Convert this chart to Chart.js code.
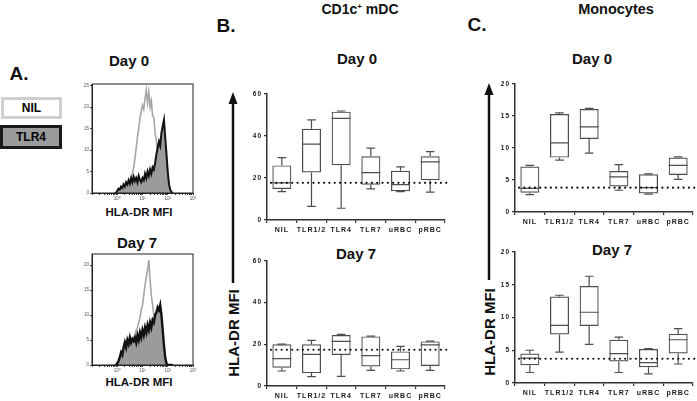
<!DOCTYPE html>
<html>
<head>
<meta charset="UTF-8" />
<title>HLA-DR MFI</title>
<script src="https://cdn.jsdelivr.net/npm/chart.js"></script>
<style>
  body { margin:0; width:697px; height:401px; position:relative; overflow:hidden; background:#fff; font-family:Arial, "Liberation Sans", sans-serif; }
  .t { position:absolute; font-weight:bold; color:#111; white-space:nowrap; transform:translate(-50%,-50%); line-height:1; }
  .rot { transform:translate(-50%,-50%) rotate(-90deg); }
  canvas { position:absolute; }
  .lg { position:absolute; box-sizing:border-box; font-weight:bold; font-size:12px; display:flex; align-items:center; justify-content:center; }
</style>
</head>
<body>
  <!-- headings -->
  <div class="t" style="left:19px;top:73px;font-size:19px">A.</div>
  <div class="t" style="left:226px;top:25px;font-size:19px">B.</div>
  <div class="t" style="left:477px;top:24px;font-size:19px">C.</div>
  <div class="t" style="left:360px;top:9px;font-size:14px">CD1c<sup style="font-size:8px;vertical-align:5px">+</sup> mDC</div>
  <div class="t" style="left:616px;top:9px;font-size:14.5px">Monocytes</div>

  <div class="t" style="left:129px;top:60px;font-size:15px">Day 0</div>
  <div class="t" style="left:137px;top:242px;font-size:15px">Day 7</div>
  <div class="t" style="left:357px;top:58px;font-size:15px">Day 0</div>
  <div class="t" style="left:356px;top:253px;font-size:15px">Day 7</div>
  <div class="t" style="left:592px;top:58px;font-size:15px">Day 0</div>
  <div class="t" style="left:612px;top:249px;font-size:15px">Day 7</div>

  <div class="t" style="left:139px;top:213px;font-size:11.5px">HLA-DR MFI</div>
  <div class="t" style="left:139px;top:383px;font-size:11.5px">HLA-DR MFI</div>
  <div class="t rot" style="left:233px;top:333px;font-size:15px">HLA-DR MFI</div>
  <div class="t rot" style="left:489px;top:332px;font-size:15px">HLA-DR MFI</div>

  <div class="lg" style="left:1px;top:97px;width:61px;height:22px;border:3px solid #cfcfcf;background:#fff">NIL</div>
  <div class="lg" style="left:0px;top:125px;width:62px;height:24px;border:3px solid #1a1a1a;background:#9b9b9b">TLR4</div>

  <canvas id="h0" width="130" height="125" style="left:70px;top:78px"></canvas>
  <canvas id="h7" width="130" height="127" style="left:70px;top:248px"></canvas>
  <canvas id="b0" width="225" height="154" style="left:225px;top:86px"></canvas>
  <canvas id="b7" width="225" height="148" style="left:225px;top:253px"></canvas>
  <canvas id="c0" width="222" height="156" style="left:475px;top:76px"></canvas>
  <canvas id="c7" width="222" height="157" style="left:475px;top:244px"></canvas>

  <svg width="697" height="401" style="position:absolute;left:0;top:0;pointer-events:none">
    <line x1="233" y1="102" x2="233" y2="283" stroke="#111" stroke-width="2.5"/>
    <polygon points="233,92 228.5,104 237.5,104" fill="#111"/>
    <line x1="489" y1="93" x2="489" y2="280" stroke="#111" stroke-width="2.5"/>
    <polygon points="489,83 484.5,95 493.5,95" fill="#111"/>
  </svg>

<script>
// ---- data ----
const categories = ['NIL', 'TLR1/2', 'TLR4', 'TLR7', 'uRBC', 'pRBC'];

// CD1c+ mDC, day 0
const mdcD0Min = [13.5, 6.5, 5.6, 14.8, 13.5, 13.3];
const mdcD0Q1  = [14.8, 22.6, 26.1, 16.8, 13.7, 18.9];
const mdcD0Med = [17.7, 36.1, 48.4, 22.6, 16.8, 27.7];
const mdcD0Q3  = [26.0, 43.4, 51.6, 30.3, 23.4, 30.3];
const mdcD0Max = [29.7, 47.7, 51.9, 34.2, 25.3, 32.6];
const mdcD0Ref = 17.7;

// CD1c+ mDC, day 7
const mdcD7Min = [7.2, 4.5, 4.6, 7.5, 7.2, 7.5];
const mdcD7Q1  = [8.8, 6.2, 14.9, 9.4, 8.0, 9.6];
const mdcD7Med = [13.1, 15.2, 21.4, 14.6, 12.6, 19.7];
const mdcD7Q3  = [20.0, 20.0, 24.5, 23.8, 16.6, 21.4];
const mdcD7Max = [20.1, 21.9, 24.8, 23.9, 19.0, 21.5];
const mdcD7Ref = 17.4;

// Monocytes, day 0
const monoD0Min = [2.7, 8.1, 9.2, 3.4, 2.8, 5.1];
const monoD0Q1  = [3.0, 8.5, 11.4, 4.0, 2.9, 5.8];
const monoD0Med = [3.7, 10.8, 13.3, 5.5, 3.8, 7.3];
const monoD0Q3  = [7.1, 15.3, 16.1, 6.4, 5.9, 8.5];
const monoD0Max = [7.3, 15.5, 16.2, 7.4, 5.95, 8.6];
const monoD0Ref = 3.8;

// Monocytes, day 7
const monoD7Min = [1.6, 4.7, 5.9, 1.6, 1.4, 2.9];
const monoD7Q1  = [2.7, 7.4, 8.7, 3.3, 2.4, 4.5];
const monoD7Med = [3.8, 8.8, 10.8, 4.5, 3.1, 6.6];
const monoD7Q3  = [4.5, 13.2, 14.8, 6.6, 5.2, 7.5];
const monoD7Max = [5.0, 13.4, 16.3, 7.0, 5.25, 8.3];
const monoD7Ref = 3.7;

// histogram bins (log10 of fluorescence)
const binLog = [-0.1, -0.05, 0, 0.05, 0.1, 0.15, 0.2, 0.25, 0.3, 0.35, 0.4, 0.45, 0.5, 0.55, 0.6, 0.65,
  0.7, 0.75, 0.8, 0.85, 0.9, 0.95, 1.0, 1.05, 1.1, 1.15, 1.2, 1.25, 1.3, 1.35, 1.4, 1.45, 1.5, 1.55,
  1.6, 1.65, 1.7, 1.75, 1.8, 1.85, 1.9, 1.95, 2.0, 2.05, 2.1, 2.15, 2.2];
const histD0Nil = [0, 0, 0.3, 0.4, 0.5, 0.5, 0.6, 0.7, 0.8, 1.0, 1.2, 1.5, 1.8, 3, 4.5, 6,
  8, 10.5, 13, 15, 17.5, 19, 20.5, 19.5, 22, 24, 21, 23.5, 20, 21.5, 18, 17.5, 14, 12,
  9, 7.5, 5.5, 4, 3, 2, 1.3, 0.8, 0.4, 0.2, 0, 0, 0];
const histD0Tlr4 = [0, 0, 0.5, 1, 0.8, 1.5, 1.2, 2, 1.5, 2.5, 2, 3, 2.2, 3.5, 2.5, 3.8,
  2.8, 3.5, 2.5, 4, 3, 2.5, 3.5, 3, 4.5, 3.5, 5, 4, 5.5, 4.5, 6, 5.5, 7, 9,
  10.5, 12, 11, 14, 15.5, 17, 13, 9, 5, 2, 0.8, 0.2, 0];
const histD7Nil = [0, 0, 0, 0.2, 0.5, 1, 1.5, 2, 2.5, 3, 3.5, 3.8, 4, 4.5, 5, 5.5,
  6, 7, 7.5, 8.5, 9.5, 11, 12, 14, 16, 17.5, 19, 21, 17, 14, 12, 10, 9.5, 9,
  8, 6.5, 4.5, 2.5, 1, 0.3, 0, 0, 0, 0, 0, 0, 0];
const histD7Tlr4 = [0, 0, 0.3, 0.8, 1.5, 2.5, 2, 3.5, 4.5, 3.5, 5, 4.2, 5.5, 4.5, 5.2, 4.8,
  5.5, 4.5, 6, 5, 6.5, 5.5, 7, 6, 7.5, 6.5, 8, 7, 8.5, 7.5, 9, 8.5, 10, 10.5,
  11.5, 11, 12, 10, 7, 4, 1.5, 0.3, 0, 0, 0, 0, 0];
const histD0YTicks = [0, 5, 10, 15, 20, 25];
const histD7YTicks = [0, 5, 10, 15, 20];

// ---- helpers ----
const spacing = { id: 'spacing', beforeDraw(chart) { chart.ctx.letterSpacing = '1px'; } };

const boxExtras = {
  id: 'boxExtras',
  afterDatasetsDraw(chart) {
    const ctx = chart.ctx, ds = chart.data.datasets[0], y = chart.scales.y, a = chart.chartArea;
    ctx.save();
    ctx.strokeStyle = '#4d4d4d';
    ctx.lineWidth = 1.2;
    chart.getDatasetMeta(0).data.forEach((bar, i) => {
      const x = bar.x, hw = bar.width / 2, cw = hw * 0.45;
      const yMin = y.getPixelForValue(ds.mins[i]), yMax = y.getPixelForValue(ds.maxs[i]);
      const yQ1 = y.getPixelForValue(ds.data[i][0]), yQ3 = y.getPixelForValue(ds.data[i][1]);
      const yMed = y.getPixelForValue(ds.meds[i]);
      ctx.beginPath();
      ctx.moveTo(x, yQ3); ctx.lineTo(x, yMax);
      ctx.moveTo(x - cw, yMax); ctx.lineTo(x + cw, yMax);
      ctx.moveTo(x, yQ1); ctx.lineTo(x, yMin);
      ctx.moveTo(x - cw, yMin); ctx.lineTo(x + cw, yMin);
      ctx.moveTo(x - hw, yMed); ctx.lineTo(x + hw, yMed);
      ctx.stroke();
    });
    const yr = y.getPixelForValue(ds.ref);
    ctx.setLineDash([0.01, 5.3]);
    ctx.lineCap = 'round';
    ctx.lineWidth = 2.2;
    ctx.strokeStyle = '#111';
    ctx.beginPath(); ctx.moveTo(a.left + 4, yr); ctx.lineTo(a.right + 4, yr); ctx.stroke();
    ctx.restore();
  }
};

function boxChart(id, mins, q1s, meds, q3s, maxs, ref, yMax, step, yW, xH, padTop, padRight) {
  return new Chart(document.getElementById(id), {
    type: 'bar',
    data: {
      labels: categories,
      datasets: [{
        data: q1s.map((q, i) => [q, q3s[i]]),
        mins: mins, meds: meds, maxs: maxs, ref: ref,
        backgroundColor: 'rgba(0,0,0,0)', borderColor: '#4d4d4d', borderWidth: 1.2,
        borderSkipped: false, barPercentage: 0.64, categoryPercentage: 1
      }]
    },
    options: {
      responsive: false, animation: false, events: [],
      layout: { padding: { top: padTop, right: padRight, left: 0, bottom: 0 } },
      plugins: { legend: { display: false }, tooltip: { enabled: false } },
      scales: {
        x: {
          grid: { drawOnChartArea: false, tickLength: 3, color: '#333', lineWidth: 1.2 },
          border: { color: '#333', width: 1.5 },
          ticks: { font: { size: 7, weight: 'bold', family: 'Arial' }, color: '#1a1a1a', padding: 3, maxRotation: 0, autoSkip: false },
          afterFit: s => { s.height = xH; }
        },
        y: {
          min: 0, max: yMax,
          grid: { drawOnChartArea: false, tickLength: 3, color: '#333', lineWidth: 1.2 },
          border: { color: '#333', width: 1.5 },
          ticks: { stepSize: step, font: { size: 6.5, weight: 'bold', family: 'Arial' }, color: '#1a1a1a', padding: 2 },
          afterFit: s => { s.width = yW; }
        }
      }
    },
    plugins: [spacing, boxExtras]
  });
}

boxChart('b0', mdcD0Min, mdcD0Q1, mdcD0Med, mdcD0Q3, mdcD0Max, mdcD0Ref, 60, 20, 42, 20, 8, 5);
boxChart('b7', mdcD7Min, mdcD7Q1, mdcD7Med, mdcD7Q3, mdcD7Max, mdcD7Ref, 60, 20, 42, 15, 8, 5);
boxChart('c0', monoD0Min, monoD0Q1, monoD0Med, monoD0Q3, monoD0Max, monoD0Ref, 20, 5, 40, 20, 8, 4);
boxChart('c7', monoD7Min, monoD7Q1, monoD7Med, monoD7Q3, monoD7Max, monoD7Ref, 20, 5, 40, 18, 8, 4);

// histogram axis ticks: decades plus log minor ticks
const sup = ['\u2070', '\u00b9', '\u00b2', '\u00b3'];
const frame = {
  id: 'frame',
  afterDraw(chart) {
    const a = chart.chartArea, ctx = chart.ctx;
    ctx.save(); ctx.strokeStyle = '#222'; ctx.lineWidth = 1;
    ctx.strokeRect(a.left, a.top, a.right - a.left, a.bottom - a.top);
    ctx.restore();
  }
};

function histChart(id, nil, tlr4, yMax, yTicks, tlrWidth) {
  return new Chart(document.getElementById(id), {
    type: 'line',
    data: {
      datasets: [
        { data: binLog.map((x, i) => ({ x: x, y: tlr4[i] })), borderColor: '#111', borderWidth: tlrWidth,
          backgroundColor: '#9b9b9b', fill: 'origin', pointRadius: 0, tension: 0 },
        { data: binLog.map((x, i) => ({ x: x, y: nil[i] })), borderColor: '#a6a6a6', borderWidth: 1.6,
          fill: false, pointRadius: 0, tension: 0 }
      ]
    },
    options: {
      responsive: false, animation: false, events: [],
      layout: { padding: { top: 6, right: 7, left: 0, bottom: 0 } },
      plugins: { legend: { display: false }, tooltip: { enabled: false } },
      scales: {
        x: {
          type: 'linear', min: -1, max: 3,
          afterBuildTicks: s => {
            const t = [];
            for (let d = -1; d < 3; d++) for (let k = 1; k < 10; k++) t.push({ value: d + Math.log10(k) });
            t.push({ value: 3 });
            s.ticks = t;
          },
          grid: { drawOnChartArea: false, tickLength: 2, color: '#444' },
          border: { color: '#222', width: 1 },
          ticks: { autoSkip: false, maxRotation: 0, padding: 1, font: { size: 4.5 }, color: '#555',
            callback: v => (Math.abs(v - Math.round(v)) < 1e-6 && v >= 0) ? '10' + sup[Math.round(v)] : '' },
          afterFit: s => { s.height = 10; }
        },
        y: {
          min: 0, max: yMax,
          afterBuildTicks: s => { s.ticks = yTicks.map(v => ({ value: v })); },
          grid: { drawOnChartArea: false, tickLength: 2, color: '#444' },
          border: { color: '#222', width: 1 },
          ticks: { autoSkip: false, font: { size: 4.5 }, color: '#555', padding: 1 },
          afterFit: s => { s.width = 22; }
        }
      }
    },
    plugins: [frame]
  });
}

histChart('h0', histD0Nil, histD0Tlr4, 25.4, histD0YTicks, 2);
histChart('h7', histD7Nil, histD7Tlr4, 22.2, histD7YTicks, 2.4);
</script>
</body>
</html>
